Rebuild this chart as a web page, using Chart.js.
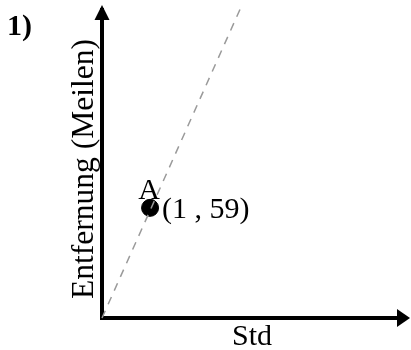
<!DOCTYPE html>
<html>
<head>
<meta charset="utf-8">
<script src="https://cdn.jsdelivr.net/npm/chart.js@4"></script>
<style>
  html, body { margin: 0; padding: 0; background: #fff; }
  #wrap { width: 411px; height: 350px; }
</style>
</head>
<body>
<div id="wrap"><canvas id="chart"></canvas></div>
<script>
// data
var lineHours = [0, 2.9];
var lineMiles = [0, 167];
var pointHours = [1];
var pointMiles = [59];
var pointNames = ["A"];
var xTitle = "Std";
var yTitle = "Entfernung (Meilen)";
var taskNo = "1)";

var serif = "'Liberation Serif', 'Times New Roman', serif";

// arrows, labels and task number
var extras = {
  id: 'extras',
  afterDraw: function(chart) {
    var ctx = chart.ctx;
    var a = chart.chartArea;
    var xs = chart.scales.x, ys = chart.scales.y;
    ctx.save();
    ctx.fillStyle = '#000';
    // y arrow
    ctx.beginPath();
    ctx.moveTo(a.left, a.top - 5);
    ctx.lineTo(a.left - 7.5, a.top + 10);
    ctx.lineTo(a.left + 7.5, a.top + 10);
    ctx.closePath();
    ctx.fill();
    // x arrow
    ctx.beginPath();
    ctx.moveTo(a.right + 10, a.bottom);
    ctx.lineTo(a.right - 3, a.bottom - 9);
    ctx.lineTo(a.right - 3, a.bottom + 9);
    ctx.closePath();
    ctx.fill();

    ctx.font = '30px ' + serif;
    ctx.textAlign = 'center';
    ctx.textBaseline = 'alphabetic';
    ctx.fillText(xTitle, 252, 345);

    ctx.save();
    ctx.font = '31.5px ' + serif;
    ctx.translate(93, 169);
    ctx.rotate(-Math.PI / 2);
    ctx.fillText(yTitle, 0, 0);
    ctx.restore();

    for (var i = 0; i < pointHours.length; i++) {
      var px = xs.getPixelForValue(pointHours[i]);
      var py = ys.getPixelForValue(pointMiles[i]);
      ctx.textAlign = 'center';
      ctx.fillText(pointNames[i], px - 1, py - 9);
      ctx.textAlign = 'left';
      ctx.textBaseline = 'middle';
      ctx.fillText('(' + pointHours[i] + ' , ' + pointMiles[i] + ')', px + 12, py + 2);
      ctx.textBaseline = 'alphabetic';
    }

    ctx.font = 'bold 30px ' + serif;
    ctx.textAlign = 'left';
    ctx.fillText(taskNo, 7, 35);
    ctx.restore();
  }
};

var lineData = lineHours.map(function(h, i) { return { x: h, y: lineMiles[i] }; });
var pointData = pointHours.map(function(h, i) { return { x: h, y: pointMiles[i] }; });

new Chart(document.getElementById('chart'), {
  type: 'scatter',
  data: {
    datasets: [{
      type: 'line',
      data: lineData,
      borderColor: '#9a9a9a',
      borderWidth: 1.5,
      borderDash: [8, 7],
      pointRadius: 0,
      clip: false
    }, {
      data: pointData,
      backgroundColor: '#000',
      borderColor: '#000',
      pointRadius: 8.5,
      pointHoverRadius: 8.5
    }]
  },
  options: {
    responsive: true,
    maintainAspectRatio: false,
    animation: false,
    layout: { padding: { top: 10, right: 11, left: 0, bottom: 0 } },
    plugins: {
      legend: { display: false },
      tooltip: { enabled: false }
    },
    scales: {
      x: {
        type: 'linear',
        min: 0,
        max: 6.2,
        grid: { display: false, drawTicks: false },
        border: { display: true, color: '#000', width: 4 },
        ticks: { display: false },
        afterFit: function(s) { s.height = 32; }
      },
      y: {
        type: 'linear',
        min: 0,
        max: 165,
        grid: { display: false, drawTicks: false },
        border: { display: true, color: '#000', width: 4 },
        ticks: { display: false },
        afterFit: function(s) { s.width = 102; }
      }
    }
  },
  plugins: [extras]
});
</script>
</body>
</html>
